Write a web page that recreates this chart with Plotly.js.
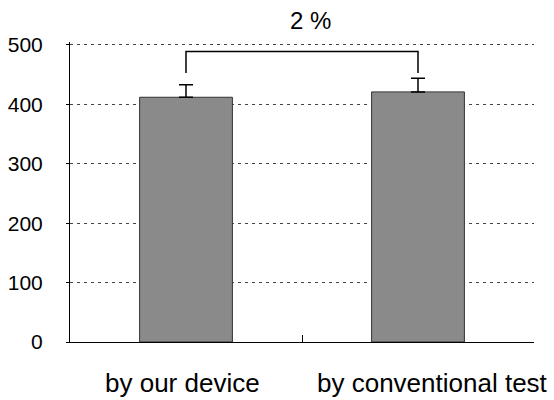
<!DOCTYPE html>
<html>
<head>
<meta charset="utf-8">
<script src="https://cdn.plot.ly/plotly-3.0.1.min.js"></script>
<style>
  html, body { margin: 0; padding: 0; background: #fff; }
  #chart { width: 554px; height: 400px; }
</style>
</head>
<body>
<div id="chart"></div>
<script>
// Measurement results for the two methods
const categories = ['by our device', 'by conventional test'];
const values = [412, 421];
const errors = [21, 23];
const diffLabel = '2 %';
const yTicks = [0, 100, 200, 300, 400, 500];

// Significance bracket drawn a little above the highest error bar
const legBottom = Math.max(...values.map((v, i) => v + errors[i])) + 9;
const bracketTop = legBottom + 36;

const FONT = 'Liberation Sans, Arial, sans-serif';

const bars = {
  type: 'bar',
  x: categories,
  y: values,
  width: 0.4,
  marker: { color: '#8a8a8a', line: { color: '#333', width: 1 } },
  error_y: {
    type: 'data', symmetric: false,
    array: errors, arrayminus: errors.map(() => 0),
    visible: true, color: '#000', thickness: 1.5, width: 7
  },
  hoverinfo: 'skip'
};

const bracket = {
  type: 'scatter',
  mode: 'lines',
  x: [categories[0], categories[0], categories[1], categories[1]],
  y: [legBottom, bracketTop, bracketTop, legBottom],
  line: { color: '#000', width: 1.5 },
  cliponaxis: false,
  hoverinfo: 'skip'
};

// Category labels placed under each bar
const labelShift = [-4, 14];
const catLabels = categories.map((c, i) => ({
  x: c, y: 0, xref: 'x', yref: 'y',
  text: c, showarrow: false,
  yanchor: 'top', xanchor: 'center',
  yshift: -24, xshift: labelShift[i],
  font: { family: FONT, size: 26, color: '#000' }
}));

const layout = {
  width: 554, height: 400,
  margin: { l: 70, r: 20, t: 42, b: 58 },
  paper_bgcolor: '#fff', plot_bgcolor: '#fff',
  showlegend: false,
  xaxis: {
    type: 'category',
    range: [-0.5, 1.5],
    showticklabels: false,
    tickson: 'boundaries',
    ticks: 'inside', ticklen: 7, tickcolor: '#000', tickwidth: 1,
    showline: true, linecolor: '#000', linewidth: 1,
    showgrid: false, zeroline: false
  },
  yaxis: {
    range: [0, 505],
    tickvals: yTicks,
    ticks: 'outside', ticklen: 3, tickcolor: '#000',
    ticklabelstandoff: 19,
    tickfont: { family: FONT, size: 21, color: '#000' },
    showline: true, linecolor: '#000', linewidth: 1,
    showgrid: true, gridcolor: '#444', gridwidth: 1, griddash: '3px,4px',
    zeroline: false
  },
  annotations: [
    {
      x: 0.5, y: bracketTop, xref: 'x', yref: 'y',
      text: diffLabel, showarrow: false,
      xanchor: 'center', yanchor: 'bottom',
      xshift: 8, yshift: 16,
      font: { family: FONT, size: 24, color: '#000' }
    },
    ...catLabels
  ]
};

Plotly.newPlot('chart', [bars, bracket], layout, { staticPlot: true, displayModeBar: false });
</script>
</body>
</html>
